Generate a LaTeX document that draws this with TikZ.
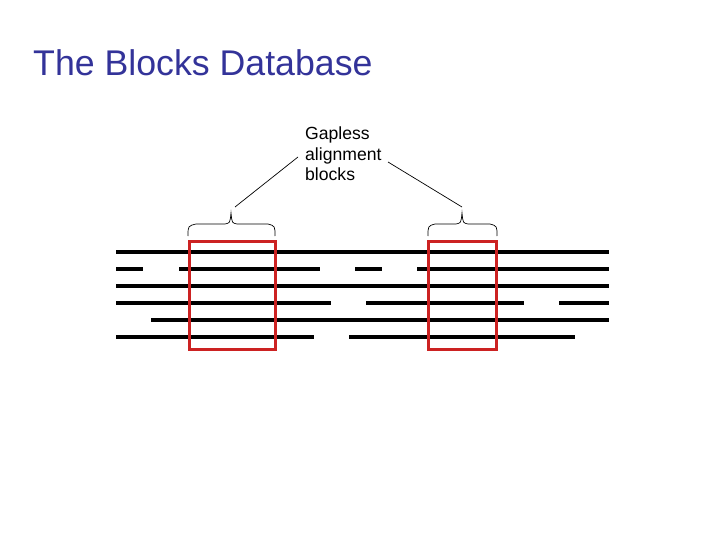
\documentclass[tikz,border=0pt]{standalone}
\usepackage{fontspec}
\setmainfont{Liberation Sans}
\definecolor{titleblue}{RGB}{51,51,153}
\definecolor{boxred}{RGB}{204,34,34}
\tikzset{
  seq/.style={line width=4pt, black},
  blockbox/.style={draw=boxred, line width=3pt},
  bracepath/.style={draw=black, line width=0.7pt},
  pointer/.style={draw=black, line width=0.7pt},
}
\begin{document}
\begin{tikzpicture}[x=1pt,y=-1pt]
\useasboundingbox (0,0) rectangle (720,540);
\node[anchor=base west, inner sep=0, text=titleblue, font=\fontsize{35.7}{40}\selectfont] (title) at (33,76) {The Blocks Database};
\node[anchor=base west, inner sep=0, align=left, font=\fontsize{17.6}{20.5}\selectfont] (label) at (305,181) {Gapless\\alignment\\blocks};
% sequences
\draw[seq] (116,252) -- (609,252);
\draw[seq] (116,269) -- (143,269);
\draw[seq] (179,269) -- (320,269);
\draw[seq] (355,269) -- (382,269);
\draw[seq] (417,269) -- (609,269);
\draw[seq] (116,286) -- (609,286);
\draw[seq] (116,303) -- (331,303);
\draw[seq] (366,303) -- (524,303);
\draw[seq] (559,303) -- (609,303);
\draw[seq] (151,320) -- (609,320);
\draw[seq] (116,337) -- (314,337);
\draw[seq] (349,337) -- (575,337);
% blocks
\node[blockbox, inner sep=0, minimum width=86pt, minimum height=108pt] (b1) at (232.3,295) {};
\node[blockbox, inner sep=0, minimum width=68.5pt, minimum height=108pt] (b2) at (462.3,295) {};
% braces
\draw[bracepath] (188,236) .. controls (188,226) .. (196,224) -- (225,224) .. controls (230,223) .. (231,213) .. controls (232,223) .. (237,224) -- (268,224) .. controls (275,226) .. (275,236);
\draw[bracepath] (428,236) .. controls (428,226) .. (435,224) -- (456,224) .. controls (461,223) .. (462,213) .. controls (463,223) .. (468,224) -- (490,224) .. controls (497,226) .. (497,236);
\coordinate (tip1) at (235,207);
\coordinate (tip2) at (462,207);
\coordinate (lab1) at (298,157);
\coordinate (lab2) at (388,162);
\draw[pointer] (lab1) -- (tip1);
\draw[pointer] (lab2) -- (tip2);
\end{tikzpicture}
\end{document}
